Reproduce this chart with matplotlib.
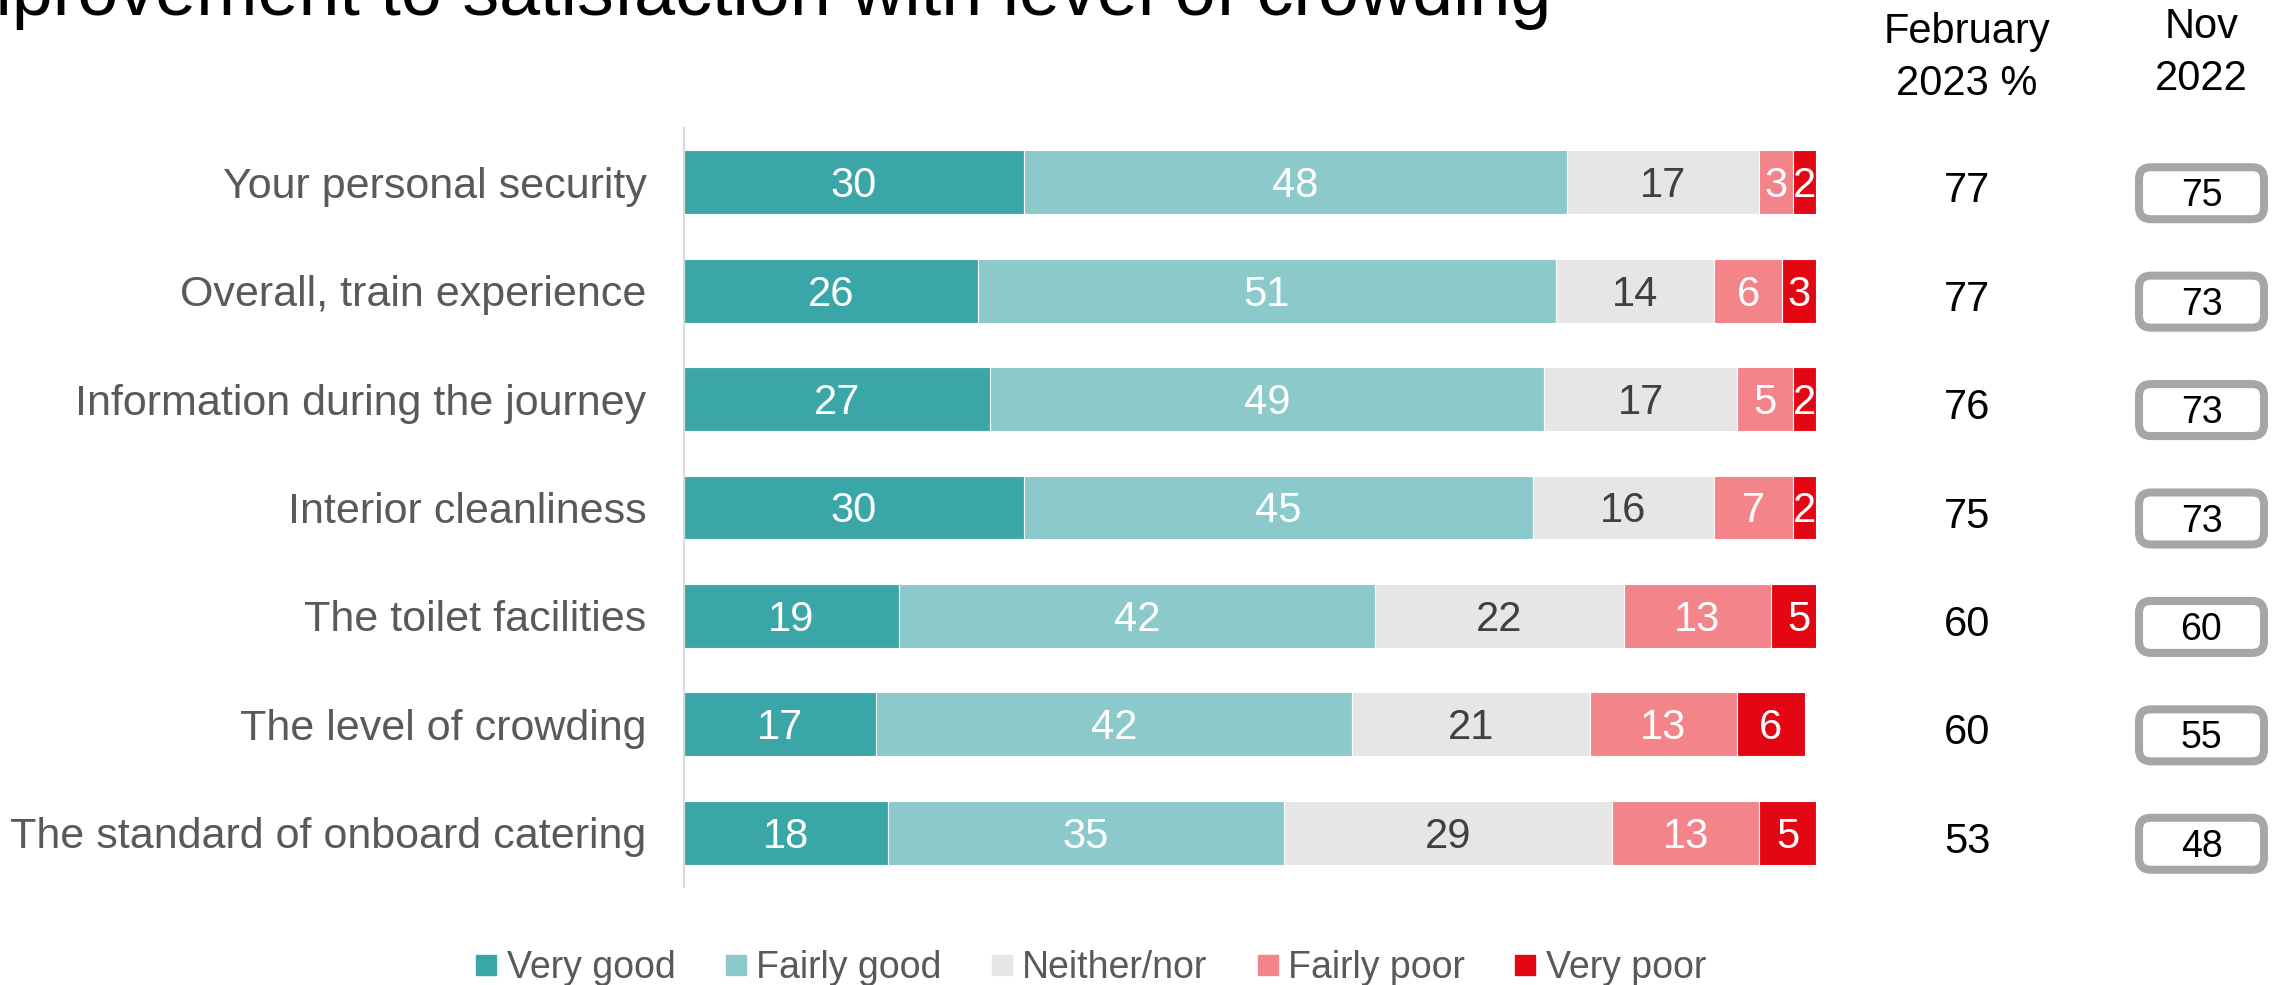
import matplotlib
matplotlib.use("Agg")
import matplotlib.pyplot as plt
from matplotlib.lines import Line2D
from matplotlib.patches import FancyBboxPatch
from matplotlib.transforms import blended_transform_factory, IdentityTransform

plt.rcParams['font.family'] = ['Liberation Sans', 'DejaVu Sans']

categories = [
    "Your personal security",
    "Overall, train experience",
    "Information during the journey",
    "Interior cleanliness",
    "The toilet facilities",
    "The level of crowding",
    "The standard of onboard catering",
]
very_good = [30, 26, 27, 30, 19, 17, 18]
fairly_good = [48, 51, 49, 45, 42, 42, 35]
neither = [17, 14, 17, 16, 22, 21, 29]
fairly_poor = [3, 6, 5, 7, 13, 13, 13]
very_poor = [2, 3, 2, 2, 5, 6, 5]
feb_2023 = [77, 77, 76, 75, 60, 60, 53]
nov_2022 = [75, 73, 73, 73, 60, 55, 48]

series_names = ["Very good", "Fairly good", "Neither/nor", "Fairly poor", "Very poor"]
series_vals = [very_good, fairly_good, neither, fairly_poor, very_poor]
series_colors = ["#3BA6A7", "#8CC9CA", "#E6E6E6", "#F2848A", "#E30613"]
label_colors = ["white", "white", "#404040", "white", "white"]

W, H = 2280, 985
ROW_PX = (887 - 128) / 7.0  # pixel height of one category row

fig = plt.figure(figsize=(W / 100, H / 100), dpi=100)
ax = fig.add_axes([684 / W, 1 - 887 / H, (1816 - 684) / W, (887 - 128) / H])

ypos = list(range(len(categories)))
left = [0] * len(categories)
for vals, col, lcol in zip(series_vals, series_colors, label_colors):
    ax.barh(ypos, vals, left=left, height=0.59, color=col,
            edgecolor="white", linewidth=0.8)
    for y, v, l in zip(ypos, vals, left):
        ax.text(l + v / 2, y + 15 / ROW_PX, str(v), ha="center", va="baseline",
                fontsize=30, color=lcol)
    left = [l + v for l, v in zip(left, vals)]

ax.set_xlim(0, 100)
ax.set_ylim(6.5, -0.5)
ax.set_yticks(ypos)
ax.set_yticklabels(categories, fontsize=31, color="#595959")
ax.tick_params(axis="y", length=0, pad=27)
ax.xaxis.set_visible(False)
for s in ["top", "right", "bottom"]:
    ax.spines[s].set_visible(False)
ax.spines["left"].set_color("#D9D9D9")
ax.spines["left"].set_linewidth(1.5)

# Title (runs past the top-left edge of the canvas)
fig.text(-66 / W, 1 - 15 / H, "improvement to satisfaction with level of crowding",
         fontsize=53, color="black", ha="left", va="baseline")

# Column headers
feb_x = 1967 / W
nov_x = 2201.5 / W
fig.text(feb_x, 1 - 43 / H, "February", fontsize=30, ha="center", va="baseline")
fig.text(feb_x, 1 - 95 / H, "2023 %", fontsize=30, ha="center", va="baseline")
fig.text(nov_x, 1 - 38 / H, "Nov", fontsize=30, ha="center", va="baseline")
fig.text(nov_x, 1 - 90 / H, "2022", fontsize=30, ha="center", va="baseline")

# Side columns: current score and boxed previous score
blend = blended_transform_factory(fig.transFigure, ax.transData)
for y, fv, nv in zip(ypos, feb_2023, nov_2022):
    ax.text(feb_x, y + 20 / ROW_PX, str(fv), transform=blend, fontsize=30,
            ha="center", va="baseline", color="black", clip_on=False)
    _, py = ax.transData.transform((0, y))
    cy = py - 11
    bw, bh = 125, 52
    box = FancyBboxPatch((2201.5 - bw / 2, cy - bh / 2), bw, bh,
                         boxstyle="round,pad=0,rounding_size=12",
                         transform=IdentityTransform(),
                         facecolor="white", edgecolor="#A6A6A6", linewidth=5.8)
    fig.add_artist(box)
    fig.text(2201.5, cy - 13, str(nv), transform=IdentityTransform(), fontsize=27,
             ha="center", va="baseline", color="black")

handles = [Line2D([], [], marker="s", linestyle="", markersize=13.7,
                  markerfacecolor=c, markeredgecolor=c) for c in series_colors]
leg = fig.legend(handles, series_names, loc="center",
                 bbox_to_anchor=(1090.5 / W, 1 - 968 / H),
                 ncol=5, frameon=False, fontsize=27, handlelength=0.6,
                 handletextpad=0.25, columnspacing=1.3, borderaxespad=0,
                 borderpad=0)
for t in leg.get_texts():
    t.set_color("#595959")

fig.savefig("out.png", dpi=100)
